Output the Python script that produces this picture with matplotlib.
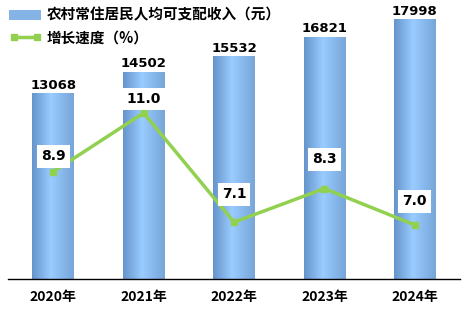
import numpy as np
import matplotlib
matplotlib.use('Agg')
import matplotlib.pyplot as plt
from matplotlib.colors import LinearSegmentedColormap
from matplotlib.patches import Patch
from matplotlib.lines import Line2D

plt.rcParams['font.family'] = ['Noto Sans CJK SC', 'DejaVu Sans']

years = ['2020年', '2021年', '2022年', '2023年', '2024年']
income = [13068, 14502, 15532, 16821, 17998]
growth = [8.9, 11.0, 7.1, 8.3, 7.0]

# label lift above each point (points), layout only
lift = [11, 10, 20, 21, 17]

W, H = 466, 314
fig = plt.figure(figsize=(W/100, H/100), dpi=100)
ax = fig.add_axes([8/W, 35/H, 452/W, 275/H])

x = np.arange(len(years))
ax.set_xlim(-0.5, 4.5)
ax.set_ylim(730, 19060)
ybot = ax.get_ylim()[0]
bars = ax.bar(x, income, width=0.46, color='none', edgecolor='none')

cmap = LinearSegmentedColormap.from_list('cyl', [
    (0.0, (0.40, 0.58, 0.80)),
    (0.45, (0.60, 0.80, 1.00)),
    (1.0, (0.47, 0.65, 0.85))])
grad = np.linspace(0, 1, 64).reshape(1, -1)
for b in bars:
    x0, w, h = b.get_x(), b.get_width(), b.get_height()
    ax.imshow(grad, cmap=cmap, aspect='auto', extent=(x0, x0 + w, ybot, h), zorder=2)
    ax.text(x0 + w/2, h + 150, f'{h:.0f}', ha='center', va='bottom',
            fontsize=9.5, fontweight='bold', family=['DejaVu Sans'], zorder=3)

ax.set_xlim(-0.5, 4.5)
ax.set_ylim(730, 19060)
ax.set_xticks(x)
ax.set_xticklabels(years, fontsize=10, fontweight='bold')
ax.tick_params(axis='x', length=0, pad=8)
ax.set_yticks([])
for s in ['top', 'left', 'right']:
    ax.spines[s].set_visible(False)
ax.spines['bottom'].set_color('black')
ax.spines['bottom'].set_linewidth(1.0)
ax.spines['bottom'].set_zorder(6)

ax2 = ax.twinx()
ax2.plot(x, growth, color='#92d050', lw=2.5, marker='s', ms=5, zorder=4)
ax2.set_ylim(5.07, 14.89)
ax2.set_yticks([])
for s in ax2.spines.values():
    s.set_visible(False)
for i, g in enumerate(growth):
    ax2.annotate(f'{g:.1f}', (x[i], g), xytext=(0, lift[i]), textcoords='offset points',
                 ha='center', va='center', fontsize=10, fontweight='bold',
                 family=['DejaVu Sans'],
                 bbox=dict(boxstyle='square,pad=0.3', fc='white', ec='none'), zorder=5)

handles = [Patch(facecolor='#84b4e6', edgecolor='none'),
           Line2D([0], [0], color='#92d050', lw=2.5, marker='s', ms=4)]
fig.legend(handles, ['农村常住居民人均可支配收入（元）', '增长速度（%）'],
           loc='upper left', bbox_to_anchor=(-0.008, 1.02), frameon=False,
           prop={'size': 10.5, 'weight': 'bold'}, numpoints=2,
           handlelength=2.2, handletextpad=0.35, labelspacing=0.45)

fig.savefig('out.png', dpi=100)
